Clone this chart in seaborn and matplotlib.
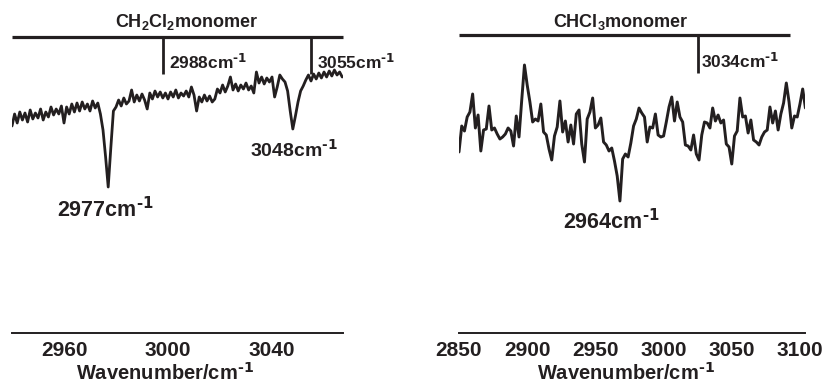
import matplotlib
matplotlib.use("Agg")
import matplotlib.pyplot as plt
import seaborn as sns
from matplotlib.ticker import MultipleLocator

# ---------------- data ----------------
# CH2Cl2 panel: wavenumber (cm-1) and signal (arbitrary units)
ch2cl2_wn = [2940, 2941, 2942, 2943, 2944, 2945, 2946, 2947, 2948, 2949,
             2950, 2951, 2952, 2953, 2954, 2955, 2956, 2957, 2958, 2959,
             2960, 2961, 2962, 2963, 2964, 2965, 2966, 2967, 2968, 2969,
             2970, 2971, 2972, 2973, 2974, 2975, 2976, 2977, 2978, 2979,
             2980, 2981, 2982, 2983, 2984, 2985, 2986, 2987, 2988, 2989,
             2990, 2991, 2992, 2993, 2994, 2995, 2996, 2997, 2998, 2999,
             3000, 3001, 3002, 3003, 3004, 3005, 3006, 3007, 3008, 3009,
             3010, 3011, 3012, 3013, 3014, 3015, 3016, 3017, 3018, 3019,
             3020, 3021, 3022, 3023, 3024, 3025, 3026, 3027, 3028, 3029,
             3030, 3031, 3032, 3033, 3034, 3035, 3036, 3037, 3038, 3039,
             3040, 3041, 3042, 3043, 3044, 3045, 3046, 3047, 3048, 3049,
             3050, 3051, 3052, 3053, 3054, 3055, 3056, 3057, 3058, 3059,
             3060, 3061, 3062, 3063, 3064, 3065, 3066, 3067]
ch2cl2_sig = [207, 219, 210, 221, 213, 220, 211, 223, 214, 220,
              215, 224, 213, 221, 216, 226, 218, 224, 219, 227,
              210, 226, 219, 229, 221, 230, 222, 231, 224, 229,
              222, 232, 225, 230, 219, 203, 176, 146, 185, 222,
              226, 233, 227, 235, 229, 232, 243, 231, 238, 232,
              239, 233, 224, 240, 234, 242, 236, 241, 235, 240,
              234, 241, 236, 243, 235, 240, 237, 242, 236, 246,
              238, 222, 236, 231, 238, 232, 237, 231, 234, 244,
              240, 248, 241, 247, 256, 243, 249, 242, 248, 244,
              250, 243, 247, 240, 261, 250, 256, 249, 255, 251,
              256, 236, 246, 258, 254, 251, 242, 222, 204, 217,
              231, 242, 247, 253, 258, 252, 259, 254, 260, 255,
              261, 256, 262, 257, 263, 258, 261, 256]

# CHCl3 panel
chcl3_wn = [2850, 2852, 2854, 2856, 2858, 2860, 2862, 2864, 2866, 2868,
            2870, 2872, 2874, 2876, 2878, 2880, 2882, 2884, 2886, 2888,
            2890, 2892, 2894, 2896, 2898, 2900, 2902, 2904, 2906, 2908,
            2910, 2912, 2914, 2916, 2918, 2920, 2922, 2924, 2926, 2928,
            2930, 2932, 2934, 2936, 2938, 2940, 2942, 2944, 2946, 2948,
            2950, 2952, 2954, 2956, 2958, 2960, 2962, 2964, 2966, 2968,
            2970, 2972, 2974, 2976, 2978, 2980, 2982, 2984, 2986, 2988,
            2990, 2992, 2994, 2996, 2998, 3000, 3002, 3004, 3006, 3008,
            3010, 3012, 3014, 3016, 3018, 3020, 3022, 3024, 3026, 3028,
            3030, 3032, 3034, 3036, 3038, 3040, 3042, 3044, 3046, 3048,
            3050, 3052, 3054, 3056, 3058, 3060, 3062, 3064, 3066, 3068,
            3070, 3072, 3074, 3076, 3078, 3080, 3082, 3084, 3086, 3088,
            3090, 3092, 3094, 3096, 3098, 3100, 3102, 3104]
chcl3_sig = [181, 207, 202, 216, 221, 239, 205, 218, 182, 203,
             204, 227, 203, 205, 199, 194, 196, 199, 205, 202,
             187, 217, 196, 233, 268, 248, 231, 211, 214, 212,
             229, 201, 198, 184, 173, 197, 206, 232, 201, 212,
             191, 208, 189, 219, 223, 189, 171, 214, 221, 235,
             205, 208, 215, 191, 188, 182, 185, 172, 157, 132,
             174, 179, 176, 190, 207, 214, 225, 220, 216, 191,
             206, 205, 219, 198, 196, 197, 211, 226, 236, 212,
             231, 216, 211, 188, 187, 183, 198, 179, 173, 198,
             211, 210, 205, 225, 212, 218, 210, 213, 189, 186,
             169, 197, 202, 235, 216, 217, 200, 213, 193, 191,
             188, 196, 201, 203, 226, 210, 222, 203, 219, 230,
             250, 231, 205, 217, 216, 229, 244, 225]

# annotation content
SUP = r"$^{\text{-1}}$"
left_title = "CH$_2$Cl$_2$monomer"
right_title = "CHCl$_3$monomer"
left_marks = [2998, 3055]
left_mark_labels = ["2988cm" + SUP, "3055cm" + SUP]
right_marks = [3025]
right_mark_labels = ["3034cm" + SUP]
left_peaks = [(2975.8, 123, "2977cm" + SUP, 15.5), (3048.5, 183, "3048cm" + SUP, 14)]
right_peaks = [(2962, 111, "2964cm" + SUP, 15.5)]
xlabel = "Wavenumber/cm" + SUP

# ---------------- style ----------------
sns.set_style("white")
plt.rcParams["font.family"] = ["Liberation Sans", "DejaVu Sans"]
plt.rcParams["font.weight"] = "bold"
plt.rcParams["mathtext.default"] = "regular"

INK = "#231f20"

fig = plt.figure(figsize=(8.25, 3.83), dpi=100)
axL = fig.add_axes([12 / 825, 50 / 383, 331 / 825, 333 / 383])
axR = fig.add_axes([459 / 825, 50 / 383, 346 / 825, 333 / 383])

sns.lineplot(x=ch2cl2_wn, y=ch2cl2_sig, ax=axL, color=INK, lw=2.0,
             estimator=None, sort=False)
sns.lineplot(x=chcl3_wn, y=chcl3_sig, ax=axR, color=INK, lw=2.1,
             estimator=None, sort=False)

axL.set_xlim(2940, 3067.3)
axR.set_xlim(2850, 3103.7)
for ax in (axL, axR):
    ax.set_ylim(0, 333)
    ax.set_yticks([])
    for s in ("left", "right", "top"):
        ax.spines[s].set_visible(False)
    ax.spines["bottom"].set_linewidth(1.4)
    ax.spines["bottom"].set_color(INK)
    ax.tick_params(axis="x", which="major", direction="out", length=3.8,
                   width=1.1, pad=2, labelsize=15, colors=INK)
    ax.tick_params(axis="x", which="minor", direction="out", length=2.2,
                   width=1.1, colors=INK)
    ax.set_xlabel(xlabel, fontsize=14.5, fontweight="bold", color=INK)
    ax.xaxis.label.set_va("center")

axL.xaxis.set_major_locator(MultipleLocator(40))
axL.xaxis.set_minor_locator(MultipleLocator(20))
axL.set_xticks([2960, 3000, 3040])
axR.xaxis.set_major_locator(MultipleLocator(50))
axR.xaxis.set_minor_locator(MultipleLocator(25))
axR.set_xticks([2850, 2900, 2950, 3000, 3050, 3100])
for lab in axL.get_xticklabels() + axR.get_xticklabels():
    lab.set_fontweight("bold")

axL.xaxis.set_label_coords((165 - 12) / 331, -0.12)
axR.xaxis.set_label_coords((626 - 459) / 346, -0.12)

# monomer marker bars
axL.plot([2940, 3067.3], [296, 296], color=INK, lw=2.3, clip_on=False,
         solid_capstyle="butt")
for xm, lab in zip(left_marks, left_mark_labels):
    axL.plot([xm, xm], [296, 259], color=INK, lw=2.0, clip_on=False,
             solid_capstyle="butt")
    axL.text(xm + 2.4, 271, lab, fontsize=12.5, fontweight="bold",
             ha="left", va="center", color=INK, clip_on=False)
axL.text(3007.3, 310.5, left_title, fontsize=13, fontweight="bold",
         ha="center", va="center", color=INK)

axR.plot([2850, 3093], [298, 298], color=INK, lw=2.3, clip_on=False,
         solid_capstyle="butt")
for xm, lab in zip(right_marks, right_mark_labels):
    axR.plot([xm, xm], [298, 260], color=INK, lw=2.0, clip_on=False,
             solid_capstyle="butt")
    axR.text(xm + 2.8, 272, lab, fontsize=12.5, fontweight="bold",
             ha="left", va="center", color=INK, clip_on=False)
axR.text(2968.8, 311, right_title, fontsize=13, fontweight="bold",
         ha="center", va="center", color=INK)

for x, y, t, fs in left_peaks:
    axL.text(x, y, t, fontsize=fs, fontweight="bold", ha="center",
             va="center", color=INK)
for x, y, t, fs in right_peaks:
    axR.text(x, y, t, fontsize=fs, fontweight="bold", ha="center",
             va="center", color=INK)

fig.savefig("out.png", dpi=100)
